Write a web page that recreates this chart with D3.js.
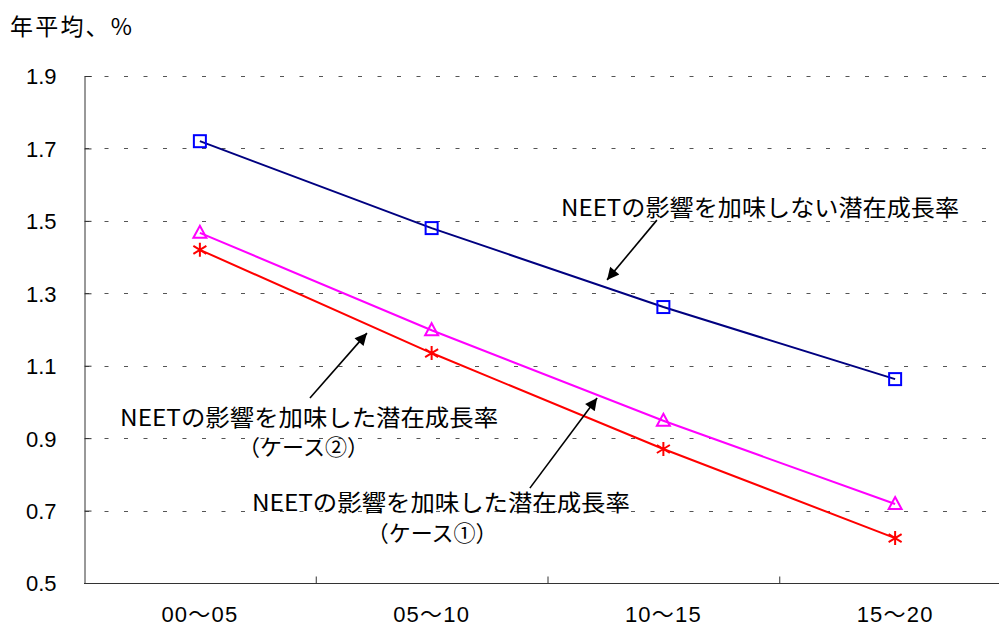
<!DOCTYPE html>
<html>
<head>
<meta charset="utf-8">
<script src="https://cdn.jsdelivr.net/npm/d3@7"></script>
<style>
  html, body { margin: 0; padding: 0; background: #fff; }
  svg { display: block; }
  text { font-family: "Noto Sans CJK JP", "Liberation Sans", sans-serif; fill: #000; }
  .num { font-family: "Liberation Sans", "Noto Sans CJK JP", sans-serif; }
</style>
</head>
<body>
<svg id="chart" width="999" height="626"></svg>
<script>
// Periods on the x axis
const periods = ["00～05", "05～10", "10～15", "15～20"];

// Potential growth rate, annual average (%)
const baseRate  = [1.72, 1.48, 1.262, 1.063];   // without NEET effect
const case2Rate = [1.467, 1.198, 0.948, 0.718]; // with NEET effect, case 2
const case1Rate = [1.42, 1.135, 0.87, 0.624];   // with NEET effect, case 1

// Y axis ticks
const yTicks = [0.5, 0.7, 0.9, 1.1, 1.3, 1.5, 1.7, 1.9];

// Callout labels: text lines, anchor (period index, value)
const calloutText = [
  ["NEETの影響を加味しない潜在成長率"],
  ["NEETの影響を加味した潜在成長率", "（ケース②）"],
  ["NEETの影響を加味した潜在成長率", "（ケース①）"]
];
const calloutAnchor = [[2.417, 1.536], [0.471, 0.956], [1.04, 0.721]];
const calloutLine2Anchor = [null, [0.447, 0.876], [1.002, 0.638]];
// Arrows: from (index, value) to (index, value)
const arrowFrom = [[1.972, 1.502], [0.475, 1.011], [1.424, 0.762]];
const arrowTo   = [[1.757, 1.337], [0.721, 1.19], [1.714, 1.011]];

const svg = d3.select("#chart");
const plotLeft = 84, plotTop = 76, plotBottom = 583;
const bandW = 231.75;

const x = d3.scaleBand().domain(periods).range([plotLeft, plotLeft + bandW * 4]).padding(0);
const xi = d3.scaleLinear().domain([-0.5, 3.5]).range([plotLeft, plotLeft + bandW * 4]);
const y = d3.scaleLinear().domain([0.5, 1.9]).range([plotBottom, plotTop]);
const cx = (d, i) => x(periods[i]) + x.bandwidth() / 2;

// Title
svg.append("text").attr("x", 10).attr("y", 35)
  .attr("font-size", 23).attr("textLength", 122).attr("lengthAdjust", "spacing")
  .text("年平均、%");

// Dashed gridlines
svg.append("g").selectAll("line").data(yTicks.filter(v => v > 0.5)).join("line")
  .attr("x1", plotLeft + 1).attr("x2", 999)
  .attr("y1", d => Math.round(y(d)) + 0.5).attr("y2", d => Math.round(y(d)) + 0.5)
  .attr("stroke", "#555").attr("stroke-width", 1).attr("stroke-dasharray", "4 15.5");

// Y axis
const yAxis = svg.append("g").attr("transform", `translate(${plotLeft + 0.5},0)`)
  .call(d3.axisLeft(y).tickValues(yTicks).tickFormat(d3.format(".1f")).tickSize(-7).tickPadding(28));
yAxis.attr("font-family", null).attr("font-size", null);
yAxis.select(".domain").attr("stroke", "#333");
yAxis.selectAll(".tick line").attr("stroke", "#333");
yAxis.selectAll(".tick text").attr("class", "num").attr("font-size", 22)
  .attr("fill", "#000").attr("dy", "0.36em");

// X axis
const xAxis = svg.append("g").attr("transform", `translate(0,${plotBottom + 0.5})`)
  .call(d3.axisBottom(xi).tickValues([0.5, 1.5, 2.5]).tickFormat("").tickSize(-7));
xAxis.select(".domain").remove();
xAxis.selectAll(".tick line").attr("stroke", "#333");
svg.append("line").attr("x1", plotLeft).attr("x2", 999)
  .attr("y1", plotBottom + 0.5).attr("y2", plotBottom + 0.5).attr("stroke", "#333");
svg.append("g").selectAll("text").data(periods).join("text")
  .attr("class", "num").attr("x", (d, i) => cx(d, i)).attr("y", 622)
  .attr("text-anchor", "middle").attr("font-size", 22).attr("letter-spacing", 1.2)
  .text(d => d);

// Series lines and markers
const line = d3.line().x((d, i) => cx(d, i)).y(d => y(d));
const series = [
  { values: baseRate, line: "#000080", marker: "#0000ff", shape: "square" },
  { values: case2Rate, line: "#ff00ff", marker: "#ff00ff", shape: "triangle" },
  { values: case1Rate, line: "#ff0000", marker: "#ff0000", shape: "star" }
];
series.forEach(s => {
  svg.append("path").datum(s.values).attr("d", line)
    .attr("fill", "none").attr("stroke", s.line).attr("stroke-width", 2);
  const g = svg.append("g");
  s.values.forEach((v, i) => {
    const px = cx(null, i), py = y(v);
    if (s.shape === "square") {
      g.append("rect").attr("x", px - 6).attr("y", py - 6).attr("width", 12).attr("height", 12)
        .attr("fill", "none").attr("stroke", s.marker).attr("stroke-width", 2);
    } else if (s.shape === "triangle") {
      g.append("path").attr("d", `M${px},${py - 7}L${px + 6.5},${py + 5}L${px - 6.5},${py + 5}Z`)
        .attr("fill", "none").attr("stroke", s.marker).attr("stroke-width", 2);
    } else {
      g.append("path")
        .attr("d", `M${px},${py - 7}V${py + 7}M${px - 6.5},${py - 4}L${px + 6.5},${py + 4}M${px - 6.5},${py + 4}L${px + 6.5},${py - 4}`)
        .attr("fill", "none").attr("stroke", s.marker).attr("stroke-width", 2);
    }
  });
});

// Callout arrows
const defs = svg.append("defs");
defs.append("marker").attr("id", "head").attr("viewBox", "0 0 10 10")
  .attr("refX", 10).attr("refY", 5).attr("markerWidth", 17).attr("markerHeight", 12)
  .attr("markerUnits", "userSpaceOnUse").attr("orient", "auto")
  .append("path").attr("d", "M0,0L10,5L0,10Z").attr("fill", "#000");
svg.append("g").selectAll("line").data(arrowFrom).join("line")
  .attr("x1", d => xi(d[0])).attr("y1", d => y(d[1]))
  .attr("x2", (d, i) => xi(arrowTo[i][0])).attr("y2", (d, i) => y(arrowTo[i][1]))
  .attr("stroke", "#000").attr("stroke-width", 1.6).attr("marker-end", "url(#head)");

// Callout text
const widths = [398, 378, 378];
calloutText.forEach((lines, k) => {
  svg.append("text").attr("x", xi(calloutAnchor[k][0])).attr("y", y(calloutAnchor[k][1]))
    .attr("text-anchor", "middle").attr("dy", "0.36em").attr("font-size", 23)
    .attr("textLength", widths[k]).attr("lengthAdjust", "spacingAndGlyphs")
    .text(lines[0]);
  if (lines[1]) {
    svg.append("text").attr("x", xi(calloutLine2Anchor[k][0])).attr("y", y(calloutLine2Anchor[k][1]))
      .attr("text-anchor", "middle").attr("dy", "0.36em").attr("font-size", 22)
      .text(lines[1]);
  }
});
</script>
</body>
</html>
